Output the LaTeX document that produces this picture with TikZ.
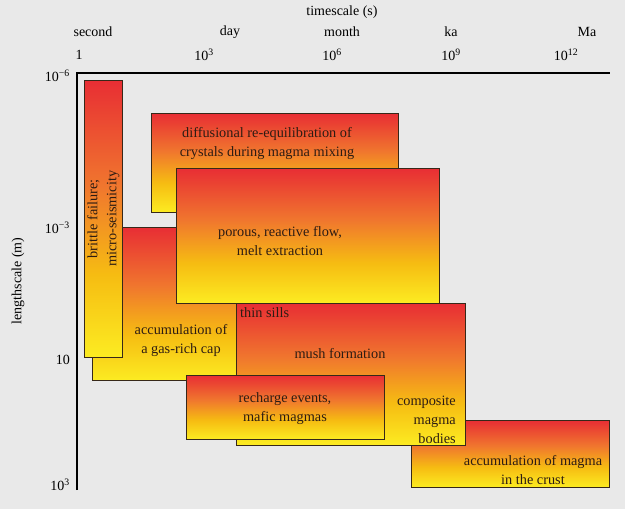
\documentclass[tikz,border=0pt]{standalone}
\usepackage{fontspec}
\setmainfont{Liberation Serif}
\usetikzlibrary{positioning}
\definecolor{bggray}{RGB}{233,233,233}
\definecolor{magmared}{RGB}{232,46,52}
\definecolor{magmaorange}{RGB}{240,118,46}
\definecolor{magmagold}{RGB}{246,188,18}
\definecolor{magmayellow}{RGB}{252,236,34}
\definecolor{boxedge}{RGB}{55,40,25}
\definecolor{labeltext}{RGB}{45,28,18}
% the path is mapped onto 25bp--75bp of the shading
\pgfdeclareverticalshading{magma}{100bp}{color(0bp)=(magmayellow); color(25bp)=(magmayellow); color(40bp)=(magmagold); color(56bp)=(magmaorange); color(75bp)=(magmared); color(100bp)=(magmared)}

\begin{document}
\begin{tikzpicture}[x=1pt,y=-1pt,
    box/.style={draw=boxedge, line width=0.8pt, shading=magma, inner sep=0pt, anchor=north west},
    lbl/.style={text=labeltext, font=\fontsize{14.3}{19}\selectfont, align=center, inner sep=0pt},
    axlbl/.style={font=\fontsize{14}{16}\selectfont, inner sep=0pt}]
        \useasboundingbox[fill=bggray] (0,0) rectangle (625,509);
        %Axis
        \coordinate (o) at (77,73);
        \coordinate (xend) at (610,73);
        \coordinate (yend) at (77,490);
        \draw[line width=1.1pt] (yend) -- (o) -- (xend);
        \node[axlbl] (tlabel) at (342,12) {timescale (s)};
        \node[axlbl] (second) at (93,32) {second};
        \node[axlbl] (day) at (230,32) {day};
        \node[axlbl] (month) at (342,32) {month};
        \node[axlbl] (ka) at (451,32) {ka};
        \node[axlbl] (Ma) at (587,32) {Ma};
        \node[axlbl] (t0) at (79,55) {1};
        \node[axlbl] (t3) at (204,55) {10\textsuperscript{3}};
        \node[axlbl] (t6) at (332,55) {10\textsuperscript{6}};
        \node[axlbl] (t9) at (451,55) {10\textsuperscript{9}};
        \node[axlbl] (t12) at (566,55) {10\textsuperscript{12}};
        \node[axlbl, anchor=east] (l6) at (70,76) {10\textsuperscript{−6}};
        \node[axlbl, anchor=east] (l3) at (70,228) {10\textsuperscript{−3}};
        \node[axlbl, anchor=east] (l1) at (70,360) {10};
        \node[axlbl, anchor=east] (lk) at (70,485) {10\textsuperscript{3}};
        \node[axlbl, rotate=90] (llabel) at (18,281) {lengthscale (m)};
        %Boxes
        \node[box, minimum width=198, minimum height=67] (crust) at (411,420) {};
        \node[lbl] at (533,470) {accumulation of magma\\in the crust};
        \node[box, minimum width=145, minimum height=153] (gascap) at (92,227) {};
        \node[lbl] at (181,341) {accumulation of\\a gas-rich cap};
        \node[box, minimum width=38, minimum height=277] (brittle) at (84,80) {};
        \node[lbl, rotate=90] at (brittle.center) {brittle failure;\\micro-seismicity};
        \node[box, minimum width=247, minimum height=99] (diffusion) at (151,113) {};
        \node[lbl] at (267,144) {diffusional re-equilibration of\\crystals during magma mixing};
        \node[box, minimum width=263, minimum height=135] (porous) at (176,168) {};
        \node[lbl] at (280,241) {porous, reactive flow,\\melt extraction};
        \node[box, minimum width=229, minimum height=142] (mush) at (236,303) {};
        \node[lbl, anchor=west] (sills) at (240,313) {thin sills};
        \node[lbl] (mushtext) at (340,354) {mush formation};
        \node[lbl, align=right, anchor=east] (composite) at (456,420) {composite\\magma\\bodies};
        \node[box, minimum width=198, minimum height=64] (recharge) at (186,375) {};
        \node[lbl] at (285,409) {recharge events,\\mafic magmas};
\end{tikzpicture}
\end{document}
